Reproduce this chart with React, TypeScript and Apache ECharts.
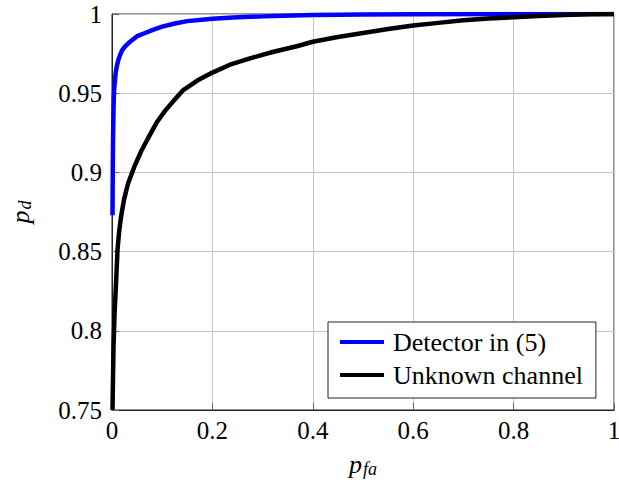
import React, { useEffect, useRef } from "react";
import * as echarts from "echarts";

const xTicks = [0, 0.2, 0.4, 0.6, 0.8, 1];
const yTicks = [0.75, 0.8, 0.85, 0.9, 0.95, 1];

const seriesNames = ["Detector in (5)", "Unknown channel"];

const detectorX = [0.001, 0.0015, 0.002, 0.003, 0.004, 0.0055, 0.007, 0.0095, 0.0126, 0.016, 0.02, 0.026, 0.0325, 0.04, 0.05, 0.066, 0.08, 0.1, 0.125, 0.15, 0.2, 0.25, 0.3, 0.4, 0.5, 0.6, 0.8, 1];
const detectorY = [0.873, 0.9, 0.92, 0.94, 0.951, 0.957, 0.962, 0.967, 0.971, 0.974, 0.977, 0.9795, 0.9815, 0.9835, 0.986, 0.988, 0.9898, 0.992, 0.994, 0.9955, 0.997, 0.998, 0.9985, 0.9993, 0.9997, 0.9999, 1, 1];

const unknownX = [0.001, 0.002, 0.003, 0.005, 0.008, 0.011, 0.014, 0.018, 0.024, 0.032, 0.045, 0.059, 0.076, 0.09, 0.106, 0.125, 0.142, 0.17, 0.2, 0.235, 0.275, 0.32, 0.37, 0.4, 0.45, 0.5, 0.55, 0.6, 0.65, 0.7, 0.75, 0.8, 0.85, 0.9, 0.95, 1];
const unknownY = [0.75, 0.77, 0.79, 0.81, 0.83, 0.851, 0.862, 0.872, 0.883, 0.893, 0.904, 0.914, 0.924, 0.932, 0.939, 0.946, 0.952, 0.958, 0.963, 0.968, 0.972, 0.976, 0.9798, 0.9825, 0.9855, 0.988, 0.9905, 0.9927, 0.9944, 0.996, 0.9971, 0.998, 0.9988, 0.9994, 0.9998, 1];

const serif = "'Liberation Serif', 'Times New Roman', serif";

export default function App() {
  const ref = useRef<HTMLDivElement>(null);
  useEffect(() => {
    if (!ref.current) return;
    const chart = echarts.init(ref.current, null, { renderer: "svg" });
    const zip = (xs: number[], ys: number[]) => xs.map((x, i) => [x, ys[i]]);
    const rich = {
      p: { fontFamily: serif, fontStyle: "italic", fontSize: 26, color: "#000" },
      s: { fontFamily: serif, fontStyle: "italic", fontSize: 18, color: "#000", padding: [10, 0, 0, 1] },
    };
    chart.setOption({
      animation: false,
      backgroundColor: "#fff",
      grid: {
        left: 112,
        right: 5,
        top: 14,
        bottom: 70,
        containLabel: false,
        outerBoundsMode: "none",
        show: true,
        borderColor: "#222",
        borderWidth: 1,
        backgroundColor: "transparent",
      },
      legend: {
        orient: "vertical",
        left: 328,
        top: 322,
        data: seriesNames,
        backgroundColor: "#fff",
        borderColor: "#222",
        borderWidth: 1,
        borderRadius: 0,
        padding: [5, 13, 8, 12],
        itemGap: 3,
        itemWidth: 44,
        itemHeight: 4,
        icon: "rect",
        textStyle: {
          fontFamily: serif,
          fontSize: 26,
          color: "#000",
          lineHeight: 30,
          padding: [0, 0, 0, 4],
        },
      },
      xAxis: {
        type: "value",
        min: 0,
        max: 1,
        interval: 0.2,
        name: "{p|p}{s|fa}",
        nameLocation: "middle",
        nameGap: 40,
        nameTextStyle: { rich },
        axisLine: { show: true, onZero: false, lineStyle: { color: "#222", width: 1 } },
        axisTick: { show: true, inside: true, length: 7, lineStyle: { color: "#666" } },
        splitLine: { show: true, lineStyle: { color: "#c4c4c4", width: 1 } },
        axisLabel: {
          fontFamily: serif,
          fontSize: 25,
          color: "#000",
          margin: 8,
          formatter: (v: number) => String(xTicks.find((t) => Math.abs(t - v) < 1e-9) ?? v),
        },
      },
      yAxis: {
        type: "value",
        min: 0.75,
        max: 1,
        interval: 0.05,
        name: "{p|p}{s|d}",
        nameLocation: "middle",
        nameGap: 78,
        nameRotate: 90,
        nameTextStyle: { rich },
        axisLine: { show: true, onZero: false, lineStyle: { color: "#222", width: 1 } },
        axisTick: { show: true, inside: true, length: 7, lineStyle: { color: "#666" } },
        splitLine: { show: true, lineStyle: { color: "#c4c4c4", width: 1 } },
        axisLabel: {
          fontFamily: serif,
          fontSize: 25,
          color: "#000",
          margin: 10,
          formatter: (v: number) => {
            const t = yTicks.find((y) => Math.abs(y - v) < 1e-9);
            return String(t ?? Number(v.toFixed(2)));
          },
        },
      },
      series: [
        {
          name: seriesNames[0],
          type: "line",
          data: zip(detectorX, detectorY),
          showSymbol: false,
          smooth: false,
          color: "#0000ff",
          lineStyle: { color: "#0000ff", width: 4.5, join: "round", cap: "butt" },
        },
        {
          name: seriesNames[1],
          type: "line",
          data: zip(unknownX, unknownY),
          showSymbol: false,
          smooth: false,
          color: "#000",
          lineStyle: { color: "#000", width: 4.5, join: "round", cap: "butt" },
        },
      ],
    });
    return () => chart.dispose();
  }, []);
  return (
    <div
      ref={ref}
      style={{ position: "fixed", left: 0, top: 0, width: 619, height: 480, background: "#fff" }}
    />
  );
}
